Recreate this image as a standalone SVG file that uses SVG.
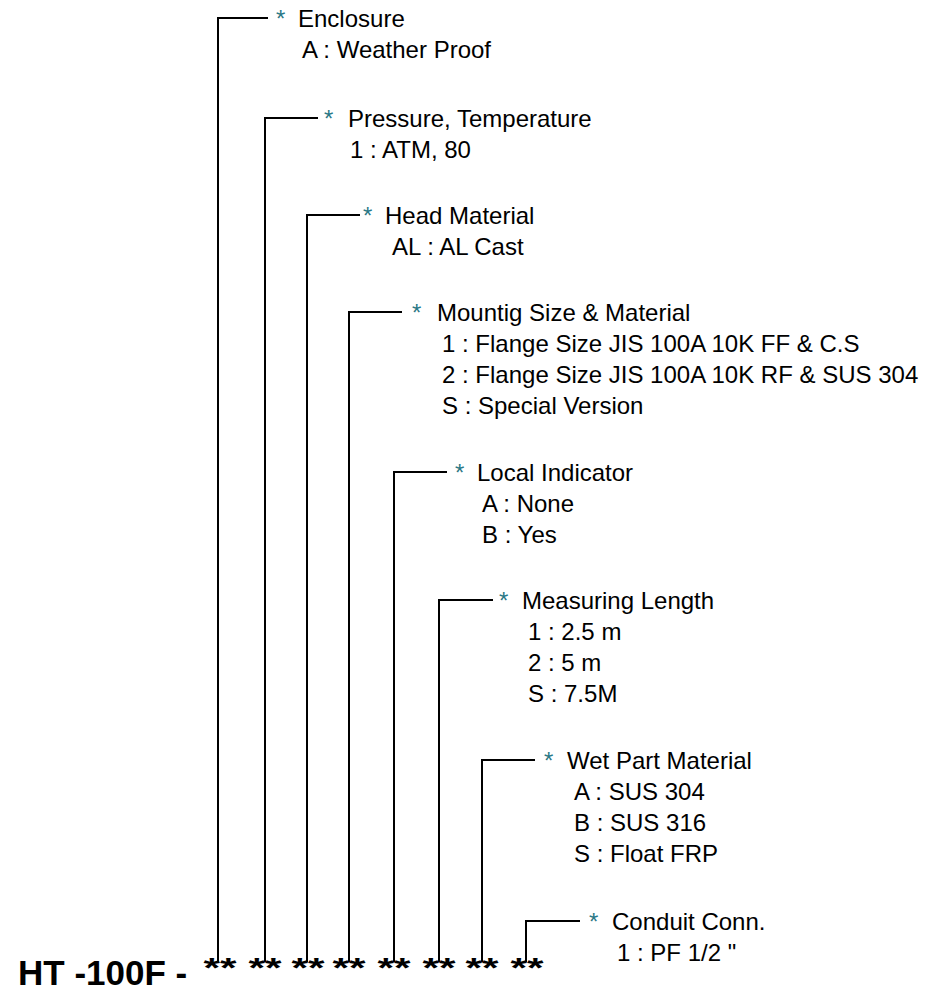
<svg xmlns="http://www.w3.org/2000/svg" width="946" height="991" viewBox="0 0 946 991">
<style>
.t{font-family:"Liberation Sans",Arial,sans-serif;font-size:24px;fill:#000}
.s{font-family:"Liberation Sans",Arial,sans-serif;font-size:24px;fill:#2b7886}
.b{font-family:"Liberation Sans",Arial,sans-serif;font-weight:bold;fill:#000}
.st{font-family:"Liberation Sans",Arial,sans-serif;font-weight:bold;font-size:28px;fill:#000;text-anchor:middle}
.l{stroke:#000;stroke-width:2;fill:none}
</style>
<rect width="946" height="991" fill="#fff"/>
<g id="connectors">
<polyline class="l" points="218,962 218,18 268,18"/>
<polyline class="l" points="265,962 265,118 318,118"/>
<polyline class="l" points="307,962 307,215 360,215"/>
<polyline class="l" points="349,962 349,312 402,312"/>
<polyline class="l" points="394,962 394,472 447,472"/>
<polyline class="l" points="439,962 439,600 493,600"/>
<polyline class="l" points="482,962 482,760 535,760"/>
<polyline class="l" points="526,962 526,921 580,921"/>
</g>
<g id="code">
<text class="b" x="18" y="985" font-size="35">HT -100F -</text>
<text class="st" x="220" y="977" textLength="33" lengthAdjust="spacingAndGlyphs">**</text>
<text class="st" x="265" y="977" textLength="33" lengthAdjust="spacingAndGlyphs">**</text>
<text class="st" x="308" y="977" textLength="33" lengthAdjust="spacingAndGlyphs">**</text>
<text class="st" x="349" y="977" textLength="33" lengthAdjust="spacingAndGlyphs">**</text>
<text class="st" x="394" y="977" textLength="33" lengthAdjust="spacingAndGlyphs">**</text>
<text class="st" x="439" y="977" textLength="33" lengthAdjust="spacingAndGlyphs">**</text>
<text class="st" x="482" y="977" textLength="33" lengthAdjust="spacingAndGlyphs">**</text>
<text class="st" x="527" y="977" textLength="33" lengthAdjust="spacingAndGlyphs">**</text>
</g>
<g id="enclosure">
<text class="s" x="276" y="27">*</text>
<text class="t" x="298" y="27">Enclosure</text>
<text class="t" x="302" y="58">A : Weather Proof</text>
</g>
<g id="pressure">
<text class="s" x="324" y="127">*</text>
<text class="t" x="348" y="127">Pressure, Temperature</text>
<text class="t" x="350" y="158">1 : ATM, 80</text>
</g>
<g id="head">
<text class="s" x="363" y="224">*</text>
<text class="t" x="385" y="224">Head Material</text>
<text class="t" x="392" y="255">AL : AL Cast</text>
</g>
<g id="mounting">
<text class="s" x="412" y="321">*</text>
<text class="t" x="437" y="321">Mountig Size &amp; Material</text>
<text class="t" x="442" y="352">1 : Flange Size JIS 100A 10K FF &amp; C.S</text>
<text class="t" x="442" y="383">2 : Flange Size JIS 100A 10K RF &amp; SUS 304</text>
<text class="t" x="442" y="414">S : Special Version</text>
</g>
<g id="local">
<text class="s" x="455" y="481">*</text>
<text class="t" x="477" y="481">Local Indicator</text>
<text class="t" x="482" y="512">A : None</text>
<text class="t" x="482" y="543">B : Yes</text>
</g>
<g id="measuring">
<text class="s" x="499" y="609">*</text>
<text class="t" x="522" y="609">Measuring Length</text>
<text class="t" x="528" y="640">1 : 2.5 m</text>
<text class="t" x="528" y="671">2 : 5 m</text>
<text class="t" x="528" y="702">S : 7.5M</text>
</g>
<g id="wet">
<text class="s" x="544" y="769">*</text>
<text class="t" x="567" y="769">Wet Part Material</text>
<text class="t" x="574" y="800">A : SUS 304</text>
<text class="t" x="574" y="831">B : SUS 316</text>
<text class="t" x="574" y="862">S : Float FRP</text>
</g>
<g id="conduit">
<text class="s" x="589" y="930">*</text>
<text class="t" x="612" y="930">Conduit Conn.</text>
<text class="t" x="617" y="961">1 : PF 1/2 "</text>
</g>
</svg>
